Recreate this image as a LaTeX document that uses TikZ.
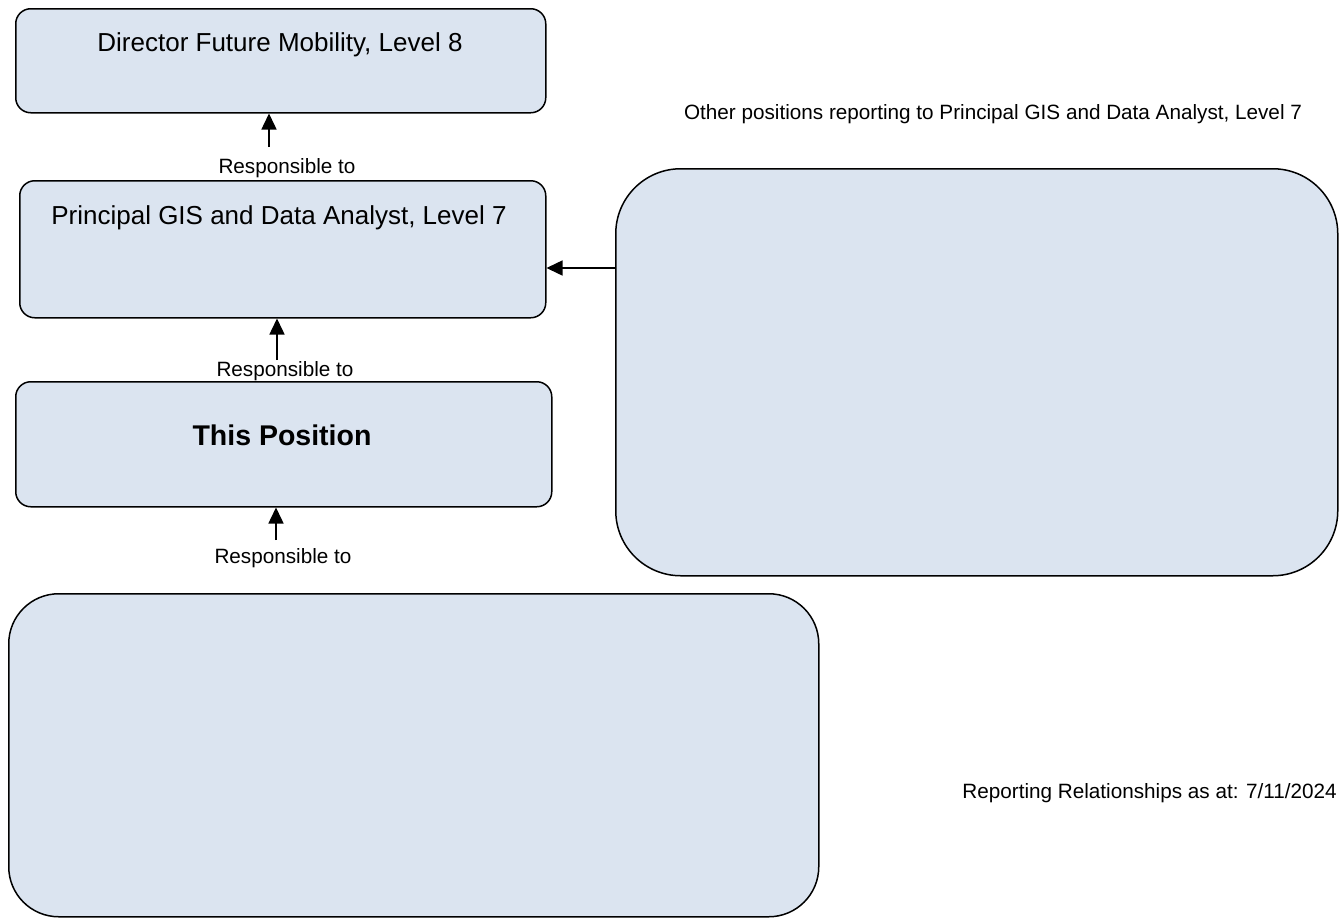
\documentclass[tikz,border=0pt]{standalone}
\usepackage{fontspec}
\setmainfont{Liberation Sans}
\usetikzlibrary{arrows.meta}
\definecolor{boxfill}{RGB}{219,228,240}
\begin{document}
\begin{tikzpicture}[x=1pt,y=-1pt,
  orgbox/.style={draw=black, line width=1.5pt, fill=boxfill, rounded corners=#1, anchor=north west, inner sep=0pt},
  boxtext/.style={font=\fontsize{26}{30}\selectfont, anchor=base, inner sep=0pt},
  boldtext/.style={font=\fontsize{28.5}{32}\selectfont\bfseries, anchor=base, inner sep=0pt},
  lbltext/.style={font=\fontsize{20.7}{24}\selectfont, anchor=base, inner sep=0pt},
  arr/.style={line width=1.5pt, -{Triangle[length=16pt,width=15pt]}}
]
\useasboundingbox (0,0) rectangle (1340,921);

\node[orgbox=15pt, minimum width=530pt, minimum height=104pt] (box1) at (15,8) {};
\node[orgbox=15pt, minimum width=526pt, minimum height=137pt] (box2) at (19,180) {};
\node[orgbox=15pt, minimum width=536pt, minimum height=125pt] (box3) at (15,381) {};
\node[orgbox=50pt, minimum width=810pt, minimum height=323pt] (box4) at (8,593) {};
\node[orgbox=65pt, minimum width=722pt, minimum height=407pt] (box5) at (615,168) {};

\node[boxtext] (t1) at (280,51) {Director Future Mobility, Level 8};
\node[boxtext] (t2) at (279,224) {Principal GIS and Data Analyst, Level 7};
\node[boldtext] (t3) at (282,445) {This Position};

\coordinate (a1) at (269,147);
\coordinate (a2) at (277,360);
\coordinate (a3) at (276,540);
\draw[arr] (a1) -- (a1 |- box1.south);
\draw[arr] (a2) -- (a2 |- box2.south);
\draw[arr] (a3) -- (a3 |- box3.south);
\draw[arr] (box5.west |- 0,268) -- (box2.east |- 0,268);

\node[lbltext] (l1) at (287,173) {Responsible to};
\node[lbltext] (l2) at (285,376) {Responsible to};
\node[lbltext] (l3) at (283,563) {Responsible to};

\node[lbltext] (other) at (993,119) {Other positions reporting to Principal GIS and Data Analyst, Level 7};
\node[lbltext, anchor=base east] (date) at (1337,798) {Reporting Relationships as at: 7/11/2024};
\end{tikzpicture}
\end{document}
